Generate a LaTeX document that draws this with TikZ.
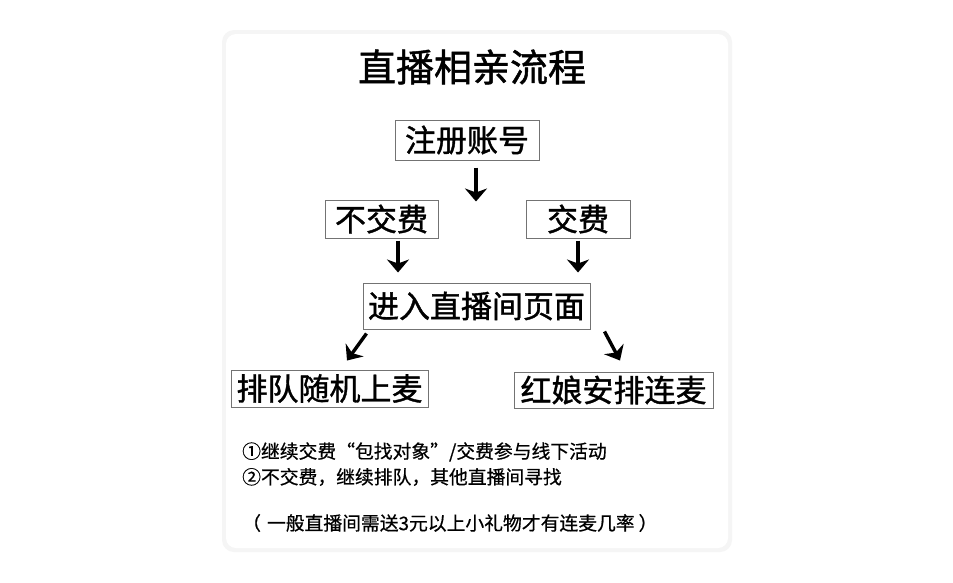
\documentclass[tikz,border=0pt]{standalone}
\usepackage{fontspec}
\setmainfont{Noto Sans CJK SC}
\newfontfamily\heavycjk[FakeBold=1.2]{Noto Sans CJK SC}
\newfontfamily\notecjk[FakeBold=0.6]{Noto Sans CJK SC}
\usetikzlibrary{arrows.meta}
\tikzset{
  flowbox/.style={draw=black!55, line width=1pt, inner sep=0pt, font=\heavycjk\fontsize{31}{31}\selectfont, text=black},
  arr/.style={line width=3.4pt, -{Stealth[length=13pt,width=22pt,inset=4pt]}},
  note/.style={anchor=west, inner sep=0pt, font=\notecjk\fontsize{18.8}{18.8}\selectfont, text=black}
}
\begin{document}
\begin{tikzpicture}[x=1pt,y=-1pt]
\useasboundingbox (0,0) rectangle (953,582);
\fill[white] (0,0) rectangle (953,582);
% card
\fill[black!4, rounded corners=12pt] (222,30) rectangle (732,552);
\fill[white, rounded corners=10pt] (226,34) rectangle (728,548);
% title
\node[inner sep=0pt, font=\heavycjk\fontsize{38}{38}\selectfont] (title) at (472,67) {直播相亲流程};
% boxes
\node[flowbox, minimum width=144pt, minimum height=40pt] (reg) at (467,140) {注册账号};
\node[flowbox, minimum width=113pt, minimum height=38pt] (nofee) at (381.5,219) {不交费};
\node[flowbox, minimum width=104pt, minimum height=38pt] (fee) at (578,219) {交费};
\node[flowbox, minimum width=227pt, minimum height=46pt] (room) at (476.5,306) {进入直播间页面};
\node[flowbox, minimum width=197pt, minimum height=37pt] (queue) at (329.5,388.5) {排队随机上麦};
\node[flowbox, minimum width=199pt, minimum height=36pt] (match) at (613.5,390) {红娘安排连麦};
% arrows
\draw[arr, shorten <=7pt, shorten >=-2pt] ([xshift=9pt]reg.south) -- ([xshift=9pt]reg.south |- nofee.north);
\draw[arr, shorten <=2pt, shorten >=10pt] ([xshift=16.5pt]nofee.south) -- ([xshift=16.5pt]nofee.south |- room.north);
\draw[arr, shorten <=2pt, shorten >=10pt] (fee.south) -- (fee.south |- room.north);
\draw[arr] ([shift={(4,4)}]room.south west) -- ([shift={(17.5,-9)}]queue.north);
\draw[arr] ([shift={(14,2)}]room.south east) -- ([shift={(6.5,-11)}]match.north);
% notes
\node[note] (n1) at (242,452) {①继续交费“包找对象”/交费参与线下活动};
\node[note] (n2) at (242,477) {②不交费，继续排队，其他直播间寻找};
\node[note] (n3) at (242,523) {（\hspace{6pt}一般直播间需送3元以上小礼物才有连麦几率\hspace{4pt}）};
\end{tikzpicture}
\end{document}
